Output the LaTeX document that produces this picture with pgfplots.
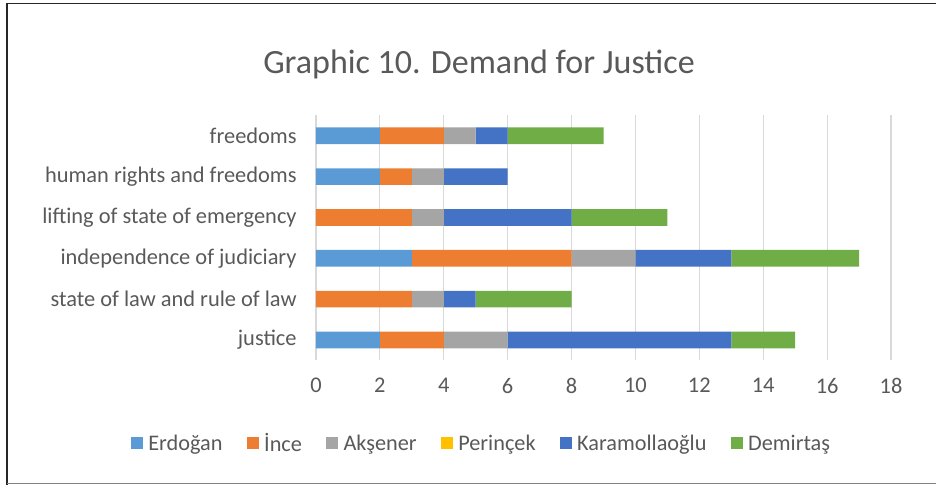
\documentclass[border=0pt]{standalone}
\usepackage{pgfplots}
\pgfplotsset{compat=1.18}
\usepackage{fontspec}
\setmainfont{Carlito}
\definecolor{cErd}{HTML}{5B9BD5}
\definecolor{cInce}{HTML}{ED7D31}
\definecolor{cAks}{HTML}{A5A5A5}
\definecolor{cPer}{HTML}{FFC000}
\definecolor{cKar}{HTML}{4472C4}
\definecolor{cDem}{HTML}{70AD47}
\definecolor{txt}{HTML}{595959}
\definecolor{grd}{HTML}{D9D9D9}
\begin{document}
\begin{tikzpicture}[x=0.75pt,y=0.75pt]
\useasboundingbox (0,0) rectangle (936,485);
\draw[line width=1.2pt,color=black!85] (7,0) -- (7,481.5) -- (936,481.5);
\draw[line width=1.2pt,color=black!50] (7,1.5) -- (936,1.5);
\node[text=txt,font=\fontsize{25.5}{30}\selectfont] at (479,421) {Graphic 10. Demand for Justice};
\begin{axis}[
  at={(237pt,93.45pt)}, anchor=south west,
  scale only axis, width=431.25pt, height=183.75pt,
  xbar stacked, bar width=12.5pt,
  xmin=0, xmax=18, xtick={0,2,...,18},
  ymin=-0.5, ymax=5.5, ytick={0,...,5},
  yticklabels={justice,state of law and rule of law,independence of judiciary,lifting of state of emergency,human rights and freedoms,freedoms},
  xmajorgrids, grid style={grd, line width=0.8pt},
  axis line style={draw=none},
  major tick length=0pt,
  tick label style={text=txt,font=\fontsize{16.8}{19}\selectfont},
  /pgf/number format/assume math mode=true,
  xticklabel style={yshift=-10pt},
  yticklabel style={xshift=-11pt},
  legend columns=6,
  legend style={at={(0.2885,-0.34)}, anchor=center, draw=none, fill=none,
    font=\fontsize{16.7}{19}\selectfont, text=txt,
    /tikz/every odd column/.append style={column sep=2pt},
    /tikz/every even column/.append style={column sep=16.2pt}},
  legend image code/.code={\fill[#1] (0pt,-3.8pt) rectangle (9pt,5pt);},
]
\addplot[fill=cErd, draw=none] coordinates {(2,0) (0,1) (3,2) (0,3) (2,4) (2,5)};
\addplot[fill=cInce, draw=none] coordinates {(2,0) (3,1) (5,2) (3,3) (1,4) (2,5)};
\addplot[fill=cAks, draw=none] coordinates {(2,0) (1,1) (2,2) (1,3) (1,4) (1,5)};
\addplot[fill=cPer, draw=none] coordinates {(0,0) (0,1) (0,2) (0,3) (0,4) (0,5)};
\addplot[fill=cKar, draw=none] coordinates {(7,0) (1,1) (3,2) (4,3) (2,4) (1,5)};
\addplot[fill=cDem, draw=none] coordinates {(2,0) (3,1) (4,2) (3,3) (0,4) (3,5)};
\legend{Erdoğan,İnce,Akşener,Perinçek,Karamollaoğlu,Demirtaş}
\end{axis}
\end{tikzpicture}
\end{document}
